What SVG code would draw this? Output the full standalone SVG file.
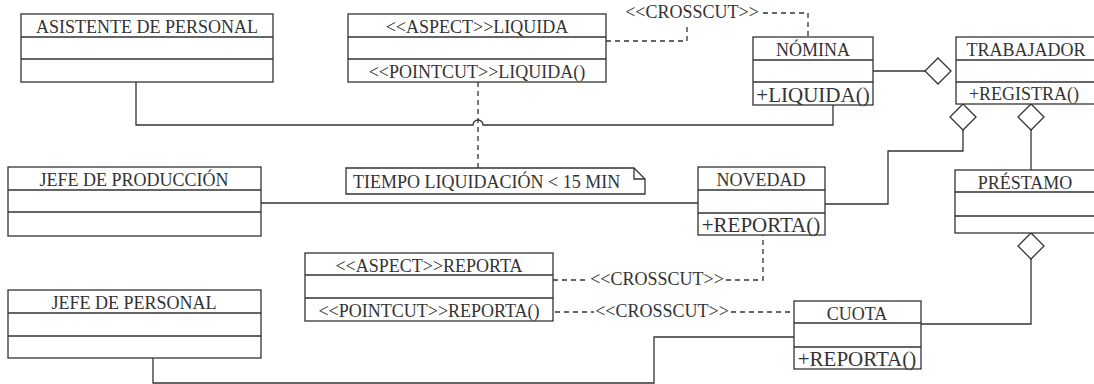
<svg xmlns="http://www.w3.org/2000/svg" width="1094" height="384" viewBox="0 0 1094 384">
<style>
.box{fill:#fff;stroke:#333;stroke-width:1.3}
.sep{stroke:#333;stroke-width:1.3}
.t{font-family:"Liberation Serif",serif;font-size:18px;fill:#333;text-anchor:middle}
.b{font-size:21px}
.l{text-anchor:start}
.c{fill:none;stroke:#333;stroke-width:1.3}
.d{fill:none;stroke:#333;stroke-width:1.3;stroke-dasharray:5,4}
.dia{fill:#fff;stroke:#333;stroke-width:1.3}
</style>
<rect width="1094" height="384" fill="#fff"/>
<g id="connectors">
<path class="c" d="M136,82 V125 H473 A5,5 0 0 1 483,125 H833 V105"/>
<path class="d" d="M478,82 V168"/>
<path class="d" d="M606,41 H687 V27"/>
<path class="d" d="M763,13 H808 V37"/>
<path class="c" d="M873,71 H925"/>
<path class="c" d="M963,130 V151 H888 V204 H825"/>
<path class="c" d="M1031,130 V170"/>
<path class="c" d="M261,203 H698"/>
<path class="c" d="M1031,259 V324 H921"/>
<path class="c" d="M153,358 V383 H654 V337 H794"/>
<path class="d" d="M553,280 H588"/>
<path class="d" d="M726,280 H763 V235"/>
<path class="d" d="M555,312 H594"/>
<path class="d" d="M731,312 H794"/>
<polygon class="dia" points="925,71 938,58 951,71 938,84"/>
<polygon class="dia" points="963,104 976,117 963,130 950,117"/>
<polygon class="dia" points="1031,104 1044,117 1031,130 1018,117"/>
<polygon class="dia" points="1031,233 1044,246 1031,259 1018,246"/>
<text class="t" x="692" y="18">&lt;&lt;CROSSCUT&gt;&gt;</text>
<text class="t" x="657" y="285">&lt;&lt;CROSSCUT&gt;&gt;</text>
<text class="t" x="662" y="317">&lt;&lt;CROSSCUT&gt;&gt;</text>
</g>
<g id="asistente">
<rect class="box" x="21" y="14" width="252" height="68"/>
<path class="sep" d="M21,37 H273 M21,59 H273"/>
<text class="t" x="147" y="33">ASISTENTE DE PERSONAL</text>
</g>
<g id="aspect-liquida">
<rect class="box" x="348" y="14" width="258" height="68"/>
<path class="sep" d="M348,37 H606 M348,59 H606"/>
<text class="t" x="477" y="33">&lt;&lt;ASPECT&gt;&gt;LIQUIDA</text>
<text class="t" x="477" y="78">&lt;&lt;POINTCUT&gt;&gt;LIQUIDA()</text>
</g>
<g id="nomina">
<rect class="box" x="753" y="37" width="120" height="68"/>
<path class="sep" d="M753,60 H873 M753,82 H873"/>
<text class="t" x="813" y="56">NÓMINA</text>
<text class="t b" x="813" y="102">+LIQUIDA()</text>
</g>
<g id="trabajador">
<rect class="box" x="956" y="37" width="150" height="67"/>
<path class="sep" d="M956,60 H1106 M956,82 H1106"/>
<text class="t" x="1026" y="56">TRABAJADOR</text>
<text class="t" x="1024" y="100">+REGISTRA()</text>
</g>
<g id="nota">
<path class="box" d="M346,168 H634 L645,179 V194 H346 Z"/>
<path class="c" d="M634,168 V179 H645"/>
<text class="t l" x="353" y="188">TIEMPO LIQUIDACIÓN &lt; 15 MIN</text>
</g>
<g id="jefe-produccion">
<rect class="box" x="8" y="167" width="253" height="69"/>
<path class="sep" d="M8,190 H261 M8,212 H261"/>
<text class="t" x="134" y="186">JEFE DE PRODUCCIÓN</text>
</g>
<g id="novedad">
<rect class="box" x="698" y="167" width="127" height="68"/>
<path class="sep" d="M698,190 H825 M698,213 H825"/>
<text class="t" x="761" y="186">NOVEDAD</text>
<text class="t b" x="761" y="232">+REPORTA()</text>
</g>
<g id="prestamo">
<rect class="box" x="955" y="170" width="150" height="63"/>
<path class="sep" d="M955,192 H1105 M955,216 H1105"/>
<text class="t" x="1025" y="189">PRÉSTAMO</text>
</g>
<g id="aspect-reporta">
<rect class="box" x="305" y="253" width="248" height="68"/>
<path class="sep" d="M305,275 H553 M305,298 H553"/>
<text class="t" x="429" y="272">&lt;&lt;ASPECT&gt;&gt;REPORTA</text>
<text class="t" x="429" y="317">&lt;&lt;POINTCUT&gt;&gt;REPORTA()</text>
</g>
<g id="jefe-personal">
<rect class="box" x="8" y="290" width="253" height="68"/>
<path class="sep" d="M8,313 H261 M8,336 H261"/>
<text class="t" x="134" y="309">JEFE DE PERSONAL</text>
</g>
<g id="cuota">
<rect class="box" x="794" y="301" width="127" height="68"/>
<path class="sep" d="M794,323 H921 M794,347 H921"/>
<text class="t" x="857" y="320">CUOTA</text>
<text class="t b" x="857" y="366">+REPORTA()</text>
</g>
</svg>
